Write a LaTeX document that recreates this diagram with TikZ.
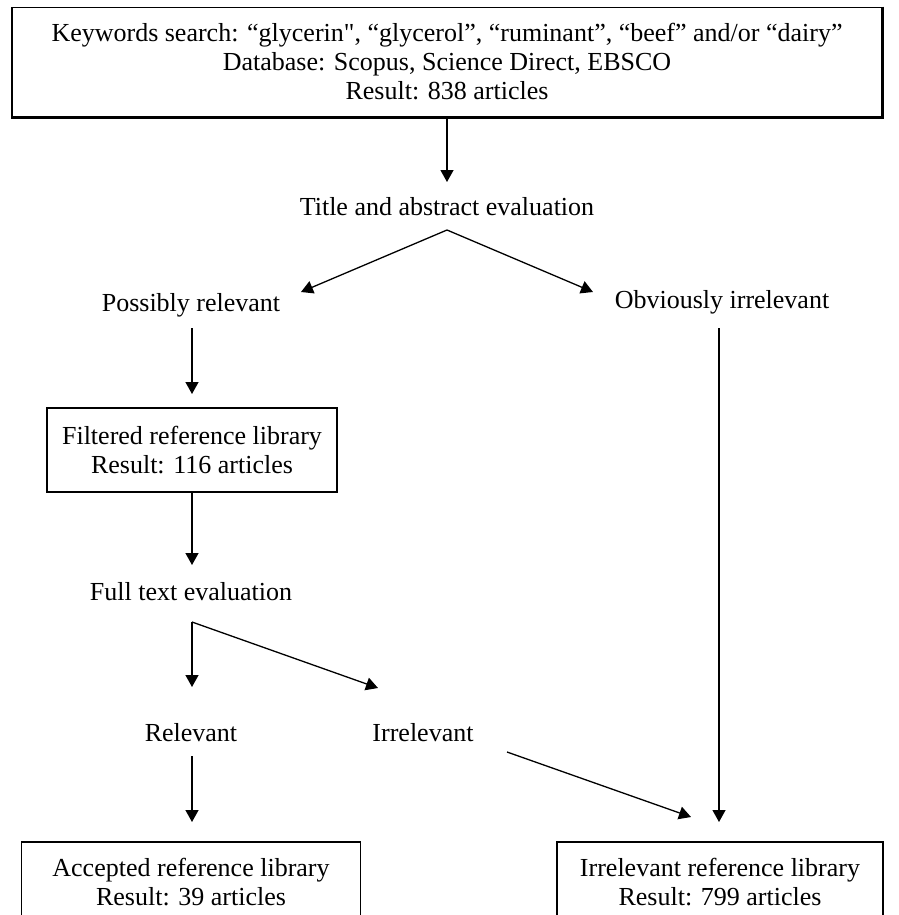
\documentclass[tikz,border=0pt]{standalone}
\usepackage{fontspec}
\setmainfont[Ligatures=TeXOff]{Liberation Serif}
\usetikzlibrary{arrows.meta}
\begin{document}
\begin{tikzpicture}[x=1pt,y=-1pt,
  every node/.style={font=\fontsize{26}{29}\selectfont, align=center, inner sep=0pt},
  box/.style={draw, line width=1.8pt},
  arr/.style={line width=1.3pt, -{Triangle[length=12pt,width=13pt]}},
  ln/.style={line width=1.3pt}]
\clip (0,0) rectangle (898,915);
\fill[white] (0,0) rectangle (898,915);
% boxes
\node[box, minimum width=870pt, minimum height=109pt] (top) at (447,62)
  {Keywords search: “glycerin", “glycerol”, “ruminant”, “beef” and/or “dairy”\\Database: Scopus, Science Direct, EBSCO\\Result: 838 articles};
\draw[line width=3pt] (top.north east) -- (top.south east) -- (top.south west);
\node[box, minimum width=290pt, minimum height=84pt] (filt) at (192,450)
  {Filtered reference library\\Result: 116 articles};
\node[box, minimum width=339pt, minimum height=80pt, anchor=north] (acc) at (191,841)
  {Accepted reference library\\Result: 39 articles};
\node[box, minimum width=326pt, minimum height=80pt, anchor=north] (irr) at (720,841)
  {Irrelevant reference library\\Result: 799 articles};
% labels
\node (title) at (447,207) {Title and abstract evaluation};
\node (poss) at (191,305) {Possibly relevant};
\node (obv) at (722,302) {Obviously irrelevant};
\node (full) at (191,592) {Full text evaluation};
\node (rel) at (191,733) {Relevant};
\node (irrel) at (423,733) {Irrelevant};
% coordinates
\coordinate (a1s) at (447,117);
\coordinate (a1e) at (447,182);
\coordinate (apex) at (447,230);
\coordinate (pe) at (301,292);
\coordinate (oe) at (593,292);
\coordinate (ps) at (192,328);
\coordinate (pend) at (192,394);
\coordinate (fs) at (192,493);
\coordinate (fe) at (192,565);
\coordinate (corner) at (192,622);
\coordinate (re) at (192,687);
\coordinate (ie) at (378,688);
\coordinate (rs) at (192,756);
\coordinate (rend) at (192,822);
\coordinate (is) at (507,752);
\coordinate (iend) at (691,817);
\coordinate (os) at (719,328);
\coordinate (oend) at (719,822);
% connectors
\draw[arr] (a1s) -- (a1e);
\draw[arr] (apex) -- (pe);
\draw[arr] (apex) -- (oe);
\draw[arr] (ps) -- (pend);
\draw[arr] (fs) -- (fe);
\draw[arr] (corner) -- (re);
\draw[arr] (corner) -- (ie);
\draw[arr] (rs) -- (rend);
\draw[arr] (is) -- (iend);
\draw[arr] (os) -- (oend);
\end{tikzpicture}
\end{document}
